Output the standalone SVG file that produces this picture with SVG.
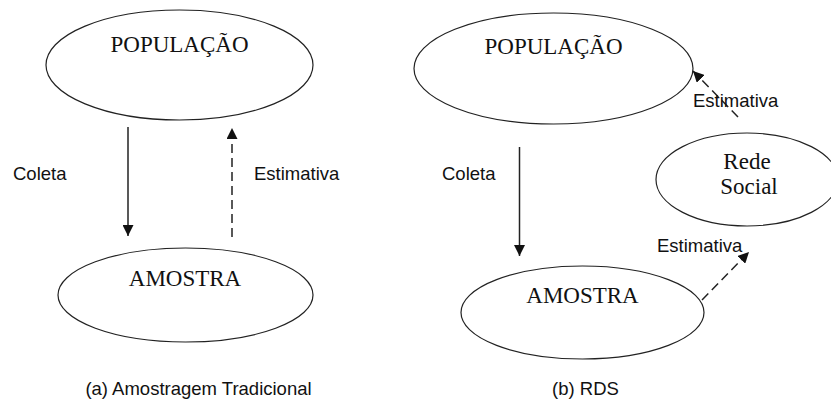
<svg xmlns="http://www.w3.org/2000/svg" width="831" height="401" viewBox="0 0 831 401">
<style>
.node{fill:#fff;stroke:#222;stroke-width:1.2}
.serif{font-family:"Liberation Serif","Times New Roman",serif;font-size:23px;fill:#111;text-anchor:middle}
.sans{font-family:"Liberation Sans",Arial,sans-serif;font-size:18.5px;fill:#111}
.edge{stroke:#222;stroke-width:1.5;fill:none}
.dash{stroke-dasharray:9,5}
</style>
<defs>
<marker id="ah" viewBox="0 0 10 10" refX="10" refY="5" markerWidth="11" markerHeight="11" markerUnits="userSpaceOnUse" orient="auto">
<path d="M0,0 L10,5 L0,10 Z" fill="#111"/>
</marker>
</defs>
<rect width="831" height="401" fill="#fff"/>
<g id="pop-a"><ellipse class="node" cx="179.5" cy="65" rx="133.5" ry="55"/><text class="serif" x="179.5" y="52">POPULAÇÃO</text></g>
<g id="amo-a"><ellipse class="node" cx="185.5" cy="295" rx="127.5" ry="47"/><text class="serif" x="185" y="286">AMOSTRA</text></g>
<g id="pop-b"><ellipse class="node" cx="553.5" cy="68.5" rx="139.5" ry="55.5"/><text class="serif" x="553.5" y="54">POPULAÇÃO</text></g>
<g id="rede-b"><ellipse class="node" cx="747" cy="179.5" rx="91" ry="46.5"/><text class="serif" x="747" y="169">Rede</text><text class="serif" x="749" y="194">Social</text></g>
<g id="amo-b"><ellipse class="node" cx="582.5" cy="312.5" rx="121.5" ry="46.5"/><text class="serif" x="582.5" y="303">AMOSTRA</text></g>
<g id="connectors">
<line class="edge" x1="128" y1="127" x2="128" y2="236" marker-end="url(#ah)"/>
<line class="edge dash" x1="232" y1="237" x2="232" y2="128" marker-end="url(#ah)"/>
<line class="edge" x1="519.5" y1="147" x2="519.5" y2="256" marker-end="url(#ah)"/>
<line class="edge dash" x1="738" y1="117" x2="693" y2="71" marker-end="url(#ah)"/>
<line class="edge dash" x1="702" y1="300" x2="749" y2="252" marker-end="url(#ah)"/>
</g>
<g id="labels">
<text class="sans" x="13" y="180">Coleta</text>
<text class="sans" x="254" y="180">Estimativa</text>
<text class="sans" x="442" y="180">Coleta</text>
<text class="sans" x="693" y="107">Estimativa</text>
<text class="sans" x="657" y="252">Estimativa</text>
<text class="sans" x="198.5" y="395" text-anchor="middle">(a) Amostragem Tradicional</text>
<text class="sans" x="585.5" y="395" text-anchor="middle">(b) RDS</text>
</g>
</svg>
